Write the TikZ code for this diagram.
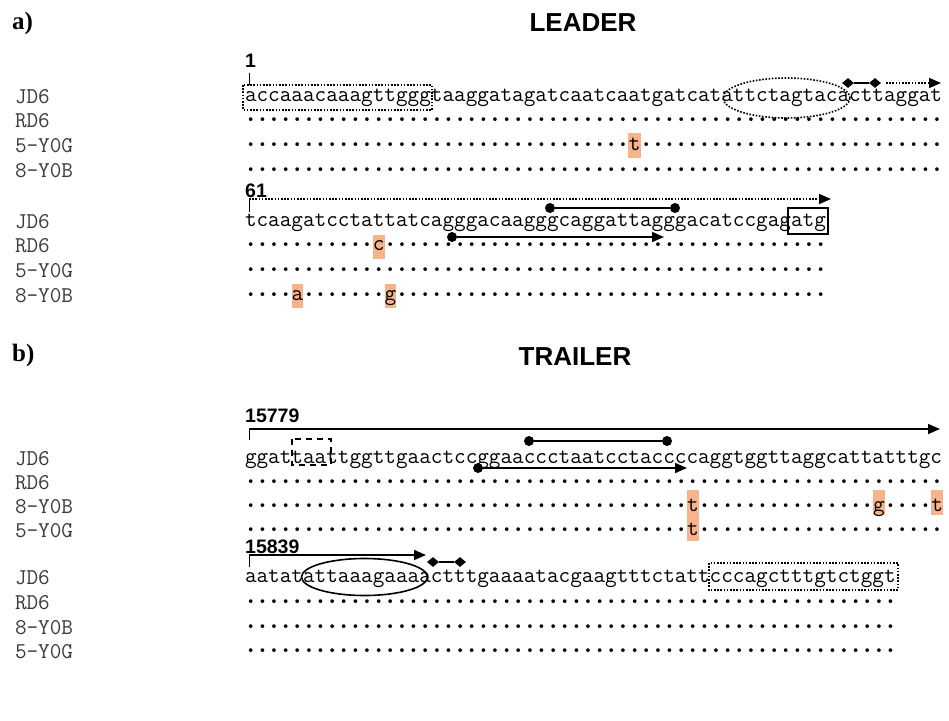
\documentclass[tikz,border=0pt]{standalone}
\usepackage{fontspec}
\newfontfamily\sansfam{Liberation Sans}
\newfontfamily\seriffam{Liberation Serif}
\usetikzlibrary{arrows.meta,shapes.geometric}
\definecolor{hl}{RGB}{247,180,140}
\definecolor{lab}{RGB}{60,60,60}
\newcommand\seqfont{\fontsize{22.56}{24}\selectfont\ttfamily}
\newcommand\onedot{\makebox[11.632pt]{\raisebox{3.9pt}{\scalebox{1.45}{.}}}}
\ExplSyntaxOn
\cs_new:Npn \sdots #1 {\prg_replicate:nn {#1} {\onedot}}
\ExplSyntaxOff
\tikzset{
  seq/.style={anchor=base west, inner sep=0pt, outer sep=0pt, font=\seqfont},
  lbl/.style={anchor=base west, inner sep=0pt, outer sep=0pt, font=\seqfont, text=lab},
  num/.style={anchor=base west, inner sep=0pt, font={\sansfam\bfseries\fontsize{19.5}{20}\selectfont}},
  ttl/.style={inner sep=0pt, font={\sansfam\bfseries\fontsize{26}{28}\selectfont}},
  part/.style={anchor=base west, inner sep=0pt, font={\seriffam\bfseries\fontsize{25}{26}\selectfont}},
  hlbox/.style={fill=hl, draw=none},
  dotl/.style={line width=1.6pt, dash pattern=on 1.6pt off 1.6pt},
  solidl/.style={line width=1.6pt},
  tickl/.style={line width=1pt},
  dashbox/.style={line width=1.6pt, dash pattern=on 6pt off 5pt},
  tip/.style={-{Triangle[length=12pt,width=10pt]}},
  ball/.style={circle, fill=black, inner sep=0pt, minimum size=10pt},
  dia/.style={diamond, fill=black, inner sep=0pt, minimum width=12pt, minimum height=10pt},
}
\begin{document}
\begin{tikzpicture}[x=1pt,y=-1pt]
\useasboundingbox[fill=white] (0,0) rectangle (949,720);

% ---------- headings ----------
\node[part] (pa) at (12,29) {a)};
\node[ttl] (lead) at (583,22.5) {LEADER};
\node[part] (pb) at (12,361) {b)};
\node[ttl] (trail) at (575,357) {TRAILER};

% ---------- highlights ----------
\fill[hlbox] (628.3,133) rectangle (640.9,158);
\fill[hlbox] (372.9,235) rectangle (384.6,259);
\fill[hlbox] (291.5,284) rectangle (303.2,308);
\fill[hlbox] (384.6,284) rectangle (396.2,308);
\fill[hlbox] (686.9,490) rectangle (698.6,541);
\fill[hlbox] (873.0,490) rectangle (884.7,515);
\fill[hlbox] (931.2,490) rectangle (942.8,515);

% ---------- LEADER block 1 ----------
\node[lbl] (l1a) at (15,103.7) {JD6};
\node[lbl] (l1b) at (15,127.7) {RD6};
\node[lbl] (l1c) at (15,152.7) {5-Y0G};
\node[lbl] (l1d) at (15,177.7) {8-Y0B};
\node[seq] (s1a) at (245,101.7) {accaaacaaagttgggtaaggatagatcaatcaatgatcatattctagtacacttaggat};
\node[seq] (s1b) at (245,125.7) {\sdots{60}};
\node[seq] (s1c) at (245,150.7) {\sdots{33}t\sdots{26}};
\node[seq] (s1d) at (245,175.7) {\sdots{60}};

\node[num] (n1) at (245,67) {1};
\coordinate (t1a) at (249,73); \coordinate (t1b) at (249,85);
\draw[tickl] (t1a) -- (t1b);
\draw[dotl] (243,85) rectangle (432,110);
\draw[dotl] (786.5,98) ellipse [x radius=63.5pt, y radius=20pt];
\node[dia] (d1) at (848,83) {};
\node[dia] (d2) at (875,83) {};
\draw[solidl] (d1) -- (d2);
\coordinate (a1s) at (886,83); \coordinate (a1e) at (941,83);
\draw[dotl,tip] (a1s) -- (a1e);

% ---------- LEADER block 2 ----------
\node[lbl] (l2a) at (15,228.7) {JD6};
\node[lbl] (l2b) at (15,252.7) {RD6};
\node[lbl] (l2c) at (15,277.7) {5-Y0G};
\node[lbl] (l2d) at (15,302.7) {8-Y0B};
\node[seq] (s2a) at (245,226.7) {tcaagatcctattatcagggacaagggcaggattagggacatccgagatg};
\node[seq] (s2b) at (245,250.7) {\sdots{11}c\sdots{38}};
\node[seq] (s2c) at (245,275.7) {\sdots{50}};
\node[seq] (s2d) at (245,300.7) {\sdots{4}a\sdots{7}g\sdots{37}};

\node[num] (n61) at (245,197) {61};
\coordinate (t2a) at (249,199); \coordinate (t2b) at (249,212);
\coordinate (a2e) at (831,199);
\draw[tickl] (t2a) -- (t2b);
\draw[dotl,tip] (t2a) -- (a2e);
\node[ball] (b1) at (550,208) {};
\node[ball] (b2) at (675,208) {};
\draw[solidl] (b1) -- (b2);
\node[ball] (b3) at (452,237) {};
\coordinate (a3e) at (664,237);
\draw[solidl,tip] (b3) -- (a3e);
\draw[solidl] (788,208) rectangle (828,234);

% ---------- TRAILER block 1 ----------
\node[lbl] (l3a) at (15,465.7) {JD6};
\node[lbl] (l3b) at (15,489.7) {RD6};
\node[lbl] (l3c) at (15,513.7) {8-Y0B};
\node[lbl] (l3d) at (15,537.7) {5-Y0G};
\node[seq] (s3a) at (245,463.7) {ggattaattggttgaactccggaaccctaatcctaccccaggtggttaggcattatttgc};
\node[seq] (s3b) at (245,487.7) {\sdots{60}};
\node[seq] (s3c) at (245,511.7) {\sdots{38}t\sdots{15}g\sdots{4}t};
\node[seq] (s3d) at (245,535.7) {\sdots{38}t\sdots{21}};

\node[num] (n15779) at (245,422) {15779};
\coordinate (t3b) at (249,440); \coordinate (t3a) at (249,429);
\coordinate (a4e) at (940,429);
\draw[tickl] (t3b) -- (t3a);
\draw[solidl,tip] (t3a) -- (a4e);
\draw[dashbox] (292,439) rectangle (331,465);
\node[ball] (b4) at (529,441) {};
\node[ball] (b5) at (667,441) {};
\draw[solidl] (b4) -- (b5);
\node[ball] (b6) at (478,468) {};
\coordinate (a5e) at (687,468);
\draw[solidl,tip] (b6) -- (a5e);

% ---------- TRAILER block 2 ----------
\node[lbl] (l4a) at (15,584.7) {JD6};
\node[lbl] (l4b) at (15,609.7) {RD6};
\node[lbl] (l4c) at (15,634.7) {8-Y0B};
\node[lbl] (l4d) at (15,658.7) {5-Y0G};
\node[seq] (s4a) at (245,582.7) {aatatattaaagaaaactttgaaaatacgaagtttctattcccagctttgtctggt};
\node[seq] (s4b) at (245,607.7) {\sdots{56}};
\node[seq] (s4c) at (245,632.7) {\sdots{56}};
\node[seq] (s4d) at (245,656.7) {\sdots{56}};

\node[num] (n15839) at (245,553) {15839};
\coordinate (t4b) at (249,567); \coordinate (t4a) at (249,555);
\coordinate (a6e) at (426,555);
\draw[tickl] (t4b) -- (t4a);
\draw[solidl,tip] (t4a) -- (a6e);
\node[dia] (d3) at (433,562) {};
\node[dia] (d4) at (460,562) {};
\draw[solidl] (d3) -- (d4);
\draw[solidl] (364.5,577) ellipse [x radius=63pt, y radius=18.5pt];
\draw[dotl] (709,563) rectangle (898,590);
\end{tikzpicture}
\end{document}
